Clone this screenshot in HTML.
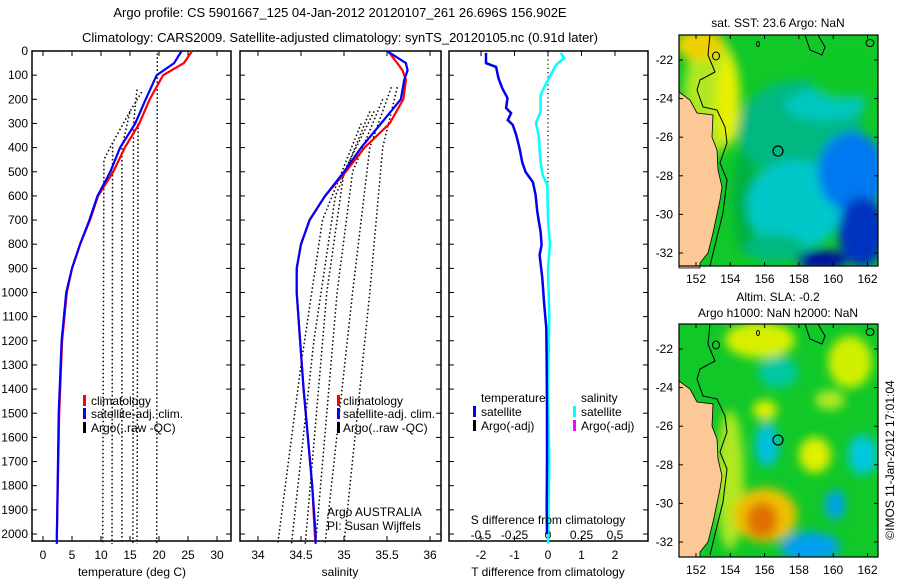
<!DOCTYPE html>
<html><head><meta charset="utf-8"><style>
body{margin:0;background:#fff;}
svg{display:block;font-family:"Liberation Sans",Arial,sans-serif;}
</style></head><body>
<svg id="fig" width="900" height="580" viewBox="0 0 900 580">
<defs>
<filter id="blur" x="-50%" y="-50%" width="200%" height="200%"><feGaussianBlur stdDeviation="5"/></filter>
<clipPath id="clip1"><rect x="679" y="35" width="199" height="231"/></clipPath>
<clipPath id="clip2"><rect x="679" y="324" width="199" height="233"/></clipPath>
</defs>
<text x="340" y="17" font-size="13" text-anchor="middle">Argo profile: CS 5901667_125 04-Jan-2012 20120107_261 26.696S 156.902E</text>
<text x="340" y="42" font-size="13" text-anchor="middle">Climatology: CARS2009. Satellite-adjusted climatology: synTS_20120105.nc (0.91d later)</text>
<g id="p1"></g>
<g id="p2"></g>
<g id="p3"></g>

<g id="map1" clip-path="url(#clip1)">
<rect x="679" y="35" width="199" height="231" fill="#10c828"/>
<g filter="url(#blur)">
<ellipse cx="712" cy="95" rx="28" ry="60" fill="#b0e820"/>
<ellipse cx="728" cy="100" rx="12" ry="45" fill="#e8f000"/>
<ellipse cx="700" cy="45" rx="24" ry="16" fill="#f0d000"/>
<ellipse cx="745" cy="200" rx="12" ry="55" fill="#00b040"/>
<ellipse cx="800" cy="130" rx="62" ry="50" fill="#00b880"/>
<ellipse cx="825" cy="105" rx="40" ry="16" fill="#00c8c0"/>
<ellipse cx="795" cy="205" rx="48" ry="45" fill="#00c8c8"/>
<ellipse cx="775" cy="248" rx="30" ry="14" fill="#00b880"/>
<ellipse cx="852" cy="172" rx="34" ry="40" fill="#0078f0"/>
<ellipse cx="862" cy="232" rx="24" ry="35" fill="#0030c0"/>
<ellipse cx="822" cy="260" rx="25" ry="10" fill="#0010a0"/>
<ellipse cx="845" cy="80" rx="35" ry="20" fill="#10c828"/>
</g>
</g>
<g id="map2" clip-path="url(#clip2)">
<rect x="679" y="324" width="199" height="233" fill="#10c828"/>
<g filter="url(#blur)">
<ellipse cx="760" cy="340" rx="35" ry="18" fill="#d8f000"/>
<ellipse cx="850" cy="362" rx="22" ry="26" fill="#d0f000"/>
<ellipse cx="730" cy="480" rx="14" ry="70" fill="#b0e820"/>
<ellipse cx="778" cy="372" rx="20" ry="16" fill="#00c8a0"/>
<ellipse cx="765" cy="410" rx="12" ry="10" fill="#e0f000"/>
<ellipse cx="767" cy="445" rx="12" ry="22" fill="#00c0e0"/>
<ellipse cx="815" cy="455" rx="16" ry="18" fill="#e0f000"/>
<ellipse cx="863" cy="455" rx="15" ry="20" fill="#00c8e0"/>
<ellipse cx="830" cy="400" rx="15" ry="10" fill="#b0e820"/>
<ellipse cx="765" cy="515" rx="32" ry="27" fill="#f0c000"/>
<ellipse cx="762" cy="520" rx="16" ry="18" fill="#e07000"/>
<ellipse cx="810" cy="547" rx="30" ry="15" fill="#00a0f0"/>
<ellipse cx="835" cy="505" rx="10" ry="15" fill="#00a0f0"/>
</g>
</g>
<g id="land1"></g>
<g id="land2" transform="translate(0,289)"></g>
<g id="mapaxes"></g>
<text x="778" y="27" font-size="12" text-anchor="middle">sat. SST: 23.6 Argo: NaN</text>
<text x="778" y="301" font-size="12" text-anchor="middle">Altim. SLA: -0.2</text>
<text x="778" y="317" font-size="12" text-anchor="middle">Argo h1000: NaN h2000: NaN</text>
<text x="0" y="0" font-size="12" text-anchor="middle" transform="translate(894,460) rotate(-90)">©IMOS 11-Jan-2012 17:01:04</text>
</svg>
<script>
const NS="http://www.w3.org/2000/svg";
// ---- data ----
const depthsClim=[0,50,100,200,300,400,500,600,700,800,900,1000,1200,1500,2000,2040];
const tempClim=[25.7,24.3,20.7,18.4,16.6,14.1,12.1,9.5,8.1,6.4,5.0,4.1,3.3,2.8,2.4,2.4];
const tempSat=[23.9,22.6,19.6,17.7,15.9,13.3,11.6,9.4,8.0,6.4,5.0,4.0,3.2,2.7,2.4,2.4];
const depthsSal=[0,50,80,120,200,300,400,500,600,700,800,900,1000,1200,1400,1600,1800,2000,2040];
const salClim=[35.51,35.62,35.68,35.72,35.69,35.53,35.24,35.02,34.78,34.60,34.50,34.45,34.45,34.49,34.53,34.58,34.63,34.66,34.67];
const salSat=[35.50,35.72,35.74,35.70,35.66,35.43,35.20,35.00,34.78,34.60,34.50,34.45,34.45,34.49,34.53,34.58,34.63,34.67,34.67];
const argoTDepths=[[10,2040],[160,300,2040],[170,250,400,2040],[250,380,2040],[380,450,2040],[300,2040]];
const argoTVals=[[19.7,19.6],[16.2,15.6,15.5],[17.0,15.0,13.6,13.6],[15.0,12.0,11.9],[12.0,10.5,10.3],[16.4,16.2]];
const argoSDepths=[[150,400,1000,2040],[150,400,1000,2040],[200,500,1000,2040],[250,500,1000,2040],[250,600,1200,2040],[300,700,1300,2040]];
const argoSVals=[[35.62,35.45,35.30,35.00],[35.55,35.30,35.10,34.78],[35.45,35.10,34.92,34.67],[35.35,35.00,34.80,34.55],[35.30,34.90,34.65,34.39],[35.20,34.75,34.50,34.23]];
const diffTDepths=[8,50,66,112,153,195,236,257,286,306,348,402,460,501,543,596,666,749,803,845,940,1039,1147,1300,1500,1700,1900,2000];
const diffT=[-1.85,-1.85,-1.55,-1.48,-1.37,-1.21,-1.25,-1.1,-1.2,-1.05,-0.95,-0.85,-0.77,-0.67,-0.45,-0.37,-0.32,-0.22,-0.19,-0.25,-0.17,-0.12,-0.05,-0.04,-0.03,-0.03,-0.04,-0.03];
const diffSDepths=[8,29,58,99,141,182,252,298,348,460,513,555,700,800,900,1100,1400,1700,2040];
const diffS=[0.095,0.12,0.06,0.02,-0.02,-0.055,-0.055,-0.09,-0.07,-0.055,-0.04,-0.005,0.0,0.015,0.0,0.01,0.0,0.01,0.0];
const depthTicks=[0,100,200,300,400,500,600,700,800,900,1000,1100,1200,1300,1400,1500,1600,1700,1800,1900,2000];
const tempTicks=[0,5,10,15,20,25,30];
const salTicks=[34,34.5,35,35.5,36];
const salTickLabels=["34","34.5","35","35.5","36"];
const dTTicks=[-2,-1,0,1,2];
const dSTicks=[-0.5,-0.25,0,0.25,0.5];
const dSTickLabels=["-0.5","-0.25","0","0.25","0.5"];
const latTicks=[-22,-24,-26,-28,-30,-32];
const lonTicks=[152,154,156,158,160,162];

// ---- scales ----
const Y0=51,YB=541;
const yD=d=>Y0+d*0.2415;
const xT=t=>43+t*5.8;
const xS=s=>258+(s-34)*86;
const xDT=v=>548+v*33.5;
const xDS=v=>548+v*134;
const mx=lon=>696+(lon-152)*17.15;
const my=lat=>60+(-22-lat)*19.3;

function el(tag,attrs,parent,text){const e=document.createElementNS(NS,tag);for(const k in attrs)e.setAttribute(k,attrs[k]);if(text!==undefined)e.textContent=text;parent.appendChild(e);return e;}
function poly(parent,xs,ds,xf,stroke,w,dash,name){
  const pts=xs.map((v,i)=>xf(v).toFixed(1)+","+yD(ds[i]).toFixed(1)).join(" ");
  const a={points:pts,fill:"none",stroke:stroke,"stroke-width":w};
  if(dash)a["stroke-dasharray"]=dash;
  const p=el("polyline",a,parent);
  
  
  return p;
}
function frame(g,x0,x1,xt,xf,topTicks){
  const r=el("rect",{x:x0,y:Y0,width:x1-x0,height:YB-Y0,fill:"none",stroke:"#000","stroke-width":1.5},g);
  
  
  depthTicks.forEach(d=>{
    el("line",{x1:x0,x2:x0+5,y1:yD(d),y2:yD(d),stroke:"#000"},g);
    el("line",{x1:x1,x2:x1-5,y1:yD(d),y2:yD(d),stroke:"#000"},g);
  });
  xt.forEach(t=>{
    el("line",{x1:xf(t),x2:xf(t),y1:YB,y2:YB-5,stroke:"#000"},g);
    if(topTicks) el("line",{x1:xf(t),x2:xf(t),y1:Y0,y2:Y0+5,stroke:"#000"},g);
  });
}
function label(g,x,y,txt,anchor,name,size){
  const t=el("text",{x:x,y:y,"font-size":size||12,"text-anchor":anchor||"start"},g,txt);
  
  
  return t;
}
function legbar(g,x,y,color){el("rect",{x:x,y:y-10,width:3,height:11,fill:color},g);}

// Panel 1
const p1=document.getElementById("p1");
frame(p1,32,231,tempTicks,xT,true);
depthTicks.forEach(d=>label(p1,28,yD(d)+4,String(d),"end","depth-tick-label"));
tempTicks.forEach(t=>label(p1,xT(t),559,String(t),"middle","temp-tick-label"));
argoTDepths.forEach((ds,i)=>poly(p1,argoTVals[i],ds,xT,"#000",1.5,"1.5 2.5","argo-temp-profile"));
poly(p1,tempClim,depthsClim,xT,"#f00",2.2,null,"temp-climatology-line");
poly(p1,tempSat,depthsClim,xT,"#00f",2.2,null,"temp-satellite-line");
legbar(p1,83,405,"#f00");legbar(p1,83,418,"#00f");legbar(p1,83,432,"#000");
label(p1,91,405,"climatology","start","legend-climatology");
label(p1,91,418,"satellite-adj. clim.","start","legend-satellite");
label(p1,91,432,"Argo(..raw -QC)","start","legend-argo");
label(p1,132,576,"temperature (deg C)","middle","temp-axis-title");

// Panel 2
const p2=document.getElementById("p2");
frame(p2,240,441,salTicks,xS,true);
salTicks.forEach((t,i)=>label(p2,xS(t),559,salTickLabels[i],"middle","sal-tick-label"));
argoSDepths.forEach((ds,i)=>poly(p2,argoSVals[i],ds,xS,"#000",1.5,"1.5 2.5","argo-sal-profile"));
poly(p2,salClim,depthsSal,xS,"#f00",2.2,null,"sal-climatology-line");
poly(p2,salSat,depthsSal,xS,"#00f",2.2,null,"sal-satellite-line");
legbar(p2,337,405,"#f00");legbar(p2,337,418,"#00f");legbar(p2,337,432,"#000");
label(p2,343,405,"climatology","start","legend-climatology");
label(p2,343,418,"satellite-adj. clim.","start","legend-satellite");
label(p2,343,432,"Argo(..raw -QC)","start","legend-argo");
label(p2,327,516,"Argo AUSTRALIA","start","argo-agency");
label(p2,327,530,"PI: Susan Wijffels","start","argo-pi");
label(p2,340,576,"salinity","middle","sal-axis-title");

// Panel 3
const p3=document.getElementById("p3");
frame(p3,449,648,dTTicks,xDT,true);
dTTicks.forEach(t=>label(p3,xDT(t),559,String(t),"middle","dT-tick-label"));
dSTicks.forEach((t,i)=>label(p3,xDS(t),539,dSTickLabels[i],"middle","dS-tick-label"));
const z=el("line",{x1:548,x2:548,y1:Y0,y2:yD(555),stroke:"#000","stroke-width":1.2,"stroke-dasharray":"1.2 3"},p3);


poly(p3,diffS,diffSDepths,xDS,"#00ffff",2.5,null,"sal-difference-line");
poly(p3,diffT,diffTDepths,xDT,"#0000ee",2.5,null,"temp-difference-line");
label(p3,481,402,"temperature","start","legend-temperature-header");
legbar(p3,473,416,"#00f");legbar(p3,473,430,"#000");
label(p3,481,416,"satellite","start","legend-temp-satellite");
label(p3,481,430,"Argo(-adj)","start","legend-temp-argo");
label(p3,581,402,"salinity","start","legend-salinity-header");
legbar(p3,573,416,"#00ffff");legbar(p3,573,430,"#ff00ff");
label(p3,581,416,"satellite","start","legend-sal-satellite");
label(p3,581,430,"Argo(-adj)","start","legend-sal-argo");
label(p3,548,524,"S difference from climatology","middle","dS-axis-title");
label(p3,548,576,"T difference from climatology","middle","dT-axis-title");

// Maps land & contours
const landPts="679,35 679,92 690,100 697,113 713,115 712,137 717,150 718,170 722,187 720,200 713,233 708,253 700,263 700,268 679,268";
const contour1="710,35 708,55 715,72 700,80 697,90 703,107 717,110 725,127 727,143 720,163 727,180 723,213 718,233 710,266";
const contour2="805,35 810,50 822,55 825,47 818,35";
["land1","land2"].forEach((id,k)=>{
  const g=document.getElementById(id);
  const L=el("polygon",{points:landPts,fill:"#fcc896",stroke:"#000","stroke-width":0.8},g);
  
  
  el("polyline",{points:contour1,fill:"none",stroke:"#000","stroke-width":1},g);
  el("polyline",{points:contour2,fill:"none",stroke:"#000","stroke-width":1},g);
  el("ellipse",{cx:716,cy:56,rx:3.5,ry:4,fill:"none",stroke:"#000"},g);
  el("ellipse",{cx:870,cy:43,rx:4,ry:3.5,fill:"none",stroke:"#000"},g);
  el("ellipse",{cx:758,cy:44,rx:1.5,ry:2.5,fill:"none",stroke:"#000"},g);
  const c=el("circle",{cx:778,cy:151,r:5,fill:"none",stroke:"#000","stroke-width":1.2},g);
  
  
});
const ma=document.getElementById("mapaxes");
[0,289].forEach(off=>{
  const top=off?324:35,bot=off?557:266;
  const r=el("rect",{x:679,y:top,width:199,height:bot-top,fill:"none",stroke:"#000","stroke-width":1.2},ma);
  
  
  latTicks.forEach(l=>{
    const y=my(l)+off;
    el("line",{x1:679,x2:683,y1:y,y2:y,stroke:"#000"},ma);
    el("line",{x1:878,x2:874,y1:y,y2:y,stroke:"#000"},ma);
    label(ma,673,y+4,String(l),"end","lat-tick-label");
  });
  lonTicks.forEach(l=>{
    const x=mx(l);
    el("line",{x1:x,x2:x,y1:bot,y2:bot-4,stroke:"#000"},ma);
    el("line",{x1:x,x2:x,y1:top,y2:top+4,stroke:"#000"},ma);
    label(ma,x,bot+17,String(l),"middle","lon-tick-label");
  });
});
</script>
</body></html>
